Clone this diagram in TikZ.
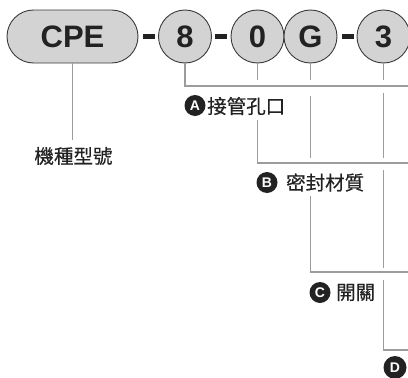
\documentclass[tikz,border=0pt]{standalone}
\usepackage{fontspec}
\newfontfamily\cjk{Noto Sans CJK TC}[FakeBold=0.5]
\newfontfamily\hv{Liberation Sans}
\definecolor{pillfill}{HTML}{D3D3D3}
\definecolor{pilledge}{HTML}{3A3A3A}
\definecolor{linegray}{HTML}{9C9C9C}
\definecolor{ink}{HTML}{222222}
\begin{document}
\begin{tikzpicture}[x=1pt,y=-1pt,
  part/.style={draw=pilledge, fill=pillfill, line width=0.9pt, text=ink,
    font=\hv\bfseries\fontsize{31}{31}\selectfont, inner sep=0},
  digit/.style={part, circle, minimum size=53pt},
  pill/.style={part, rectangle, rounded corners=26.5pt, minimum width=131pt, minimum height=53pt},
  sep/.style={rectangle, fill=ink, minimum width=12pt, minimum height=5pt, inner sep=0},
  conn/.style={draw=linegray, line width=1.3pt},
  badge/.style={circle, fill=ink, text=white, font=\hv\bfseries\fontsize{14}{14}\selectfont,
    minimum size=21pt, inner sep=0},
  lbl/.style={text=ink, font=\cjk\fontsize{19.5}{20}\selectfont, inner sep=0}]
\useasboundingbox (0,0) rectangle (408,378);
\clip (0,0) rectangle (408,378);

% code parts
\node[pill]  (cpe) at (72.5,36.5) {CPE};
\node[sep]   (d1)  at (149,36) {};
\node[digit] (n8)  at (185,36.5) {8};
\node[sep]   (d2)  at (221,36) {};
\node[digit] (n0)  at (257.5,36.5) {0};
\node[digit] (nG)  at (310.5,36.5) {G};
\node[sep]   (d3)  at (348,36) {};
\node[digit] (n3)  at (383.5,36.5) {3};

% labels
\node[lbl] (model) at (73.5,156) {機種型號};
\node[badge] (bA) at (195,105.5) {A};
\node[lbl, anchor=west] (tA) at (207,106) {接管孔口};
\node[badge] (bB) at (267,182.5) {B};
\node[lbl, anchor=west] (tB) at (286,182.5) {密封材質};
\node[badge] (bC) at (320,292.5) {C};
\node[lbl, anchor=west] (tC) at (336,292.5) {開關};
\node[badge, minimum size=23pt] (bD) at (395,367.5) {D};

% free ends
\coordinate (mTop) at (72.5,140);
\coordinate (eA) at (410,86);
\coordinate (eB) at (410,163);
\coordinate (eC) at (410,272);
\coordinate (eD) at (410,350);

% connectors
\draw[conn] (cpe.south) -- (mTop);
\draw[conn] (n8.south) |- (eA);
\draw[conn] (n0.south) -- ++(0,17);
\draw[conn] (257.5,120) |- (eB);
\draw[conn] (nG.south) -- ++(0,17);
\draw[conn] (310.5,96) -- (310.5,158);
\draw[conn] (310.5,196) |- (eC);
\draw[conn] (n3.south) -- ++(0,17);
\draw[conn] (383.5,93) -- (383.5,158);
\draw[conn] (383.5,170) -- (383.5,268);
\draw[conn] (383.5,280) |- (eD);
\end{tikzpicture}
\end{document}
